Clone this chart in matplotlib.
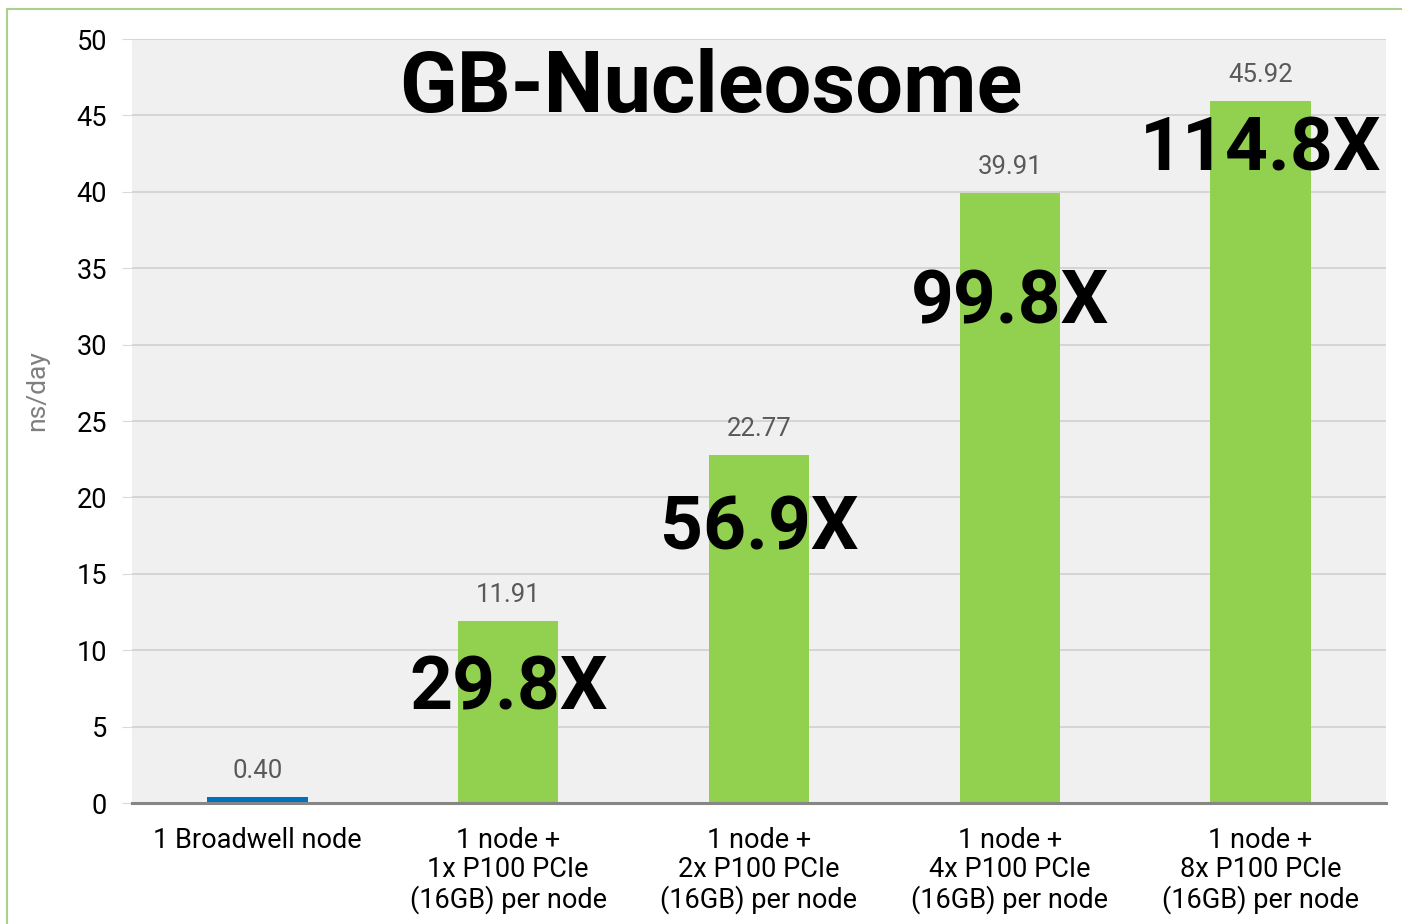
import numpy as np
import matplotlib.pyplot as plt
from matplotlib.lines import Line2D

categories = ["1 Broadwell node",
              "1 node +\n1x P100 PCIe\n(16GB) per node",
              "1 node +\n2x P100 PCIe\n(16GB) per node",
              "1 node +\n4x P100 PCIe\n(16GB) per node",
              "1 node +\n8x P100 PCIe\n(16GB) per node"]
ns_per_day = [0.40, 11.91, 22.77, 39.91, 45.92]
speedups = ["", "29.8X", "56.9X", "99.8X", "114.8X"]

# layout only: vertical centre of each speedup label (data units)
speedup_y = [0, 7.4, 17.9, 32.7, 42.7]
bar_colors = ["#0070C0", "#92D050", "#92D050", "#92D050", "#92D050"]

plt.rcParams['font.family'] = ['Roboto', 'DejaVu Sans']

fig = plt.figure(figsize=(14.02, 9.24), dpi=100)
ax = fig.add_axes([132/1402, 1 - 803/924, (1386-132)/1402, (803-39)/924])
ax.set_facecolor("#F0F0F0")

x = np.arange(len(categories))
bars = ax.bar(x, ns_per_day, width=0.4, color=bar_colors, zorder=3)

for xi, v in zip(x, ns_per_day):
    ax.annotate(f"{v:.2f}", (xi, v), xytext=(0, 10), textcoords="offset points",
                ha="center", va="bottom", fontsize=18.5, color="#595959")

for xi, s, yy in zip(x, speedups, speedup_y):
    if s:
        ax.text(xi, yy, s, ha="center", va="center", fontsize=54,
                fontweight="bold", color="black", zorder=4)

ax.set_xlim(-0.5, len(categories) - 0.5)
ax.set_ylim(0, 50)
ax.set_yticks(np.arange(0, 51, 5))
ax.set_xticks(x)
ax.set_xticklabels(categories, fontsize=19.5, linespacing=1.1)
ax.tick_params(axis="x", length=0, pad=17)
ax.tick_params(axis="y", labelsize=19.5, length=7, color="#D9D9D9", pad=11)

ax.grid(axis="y", color="#D0D0D0", linewidth=1.2, zorder=0)
for side in ["top", "right", "left"]:
    ax.spines[side].set_visible(False)
ax.spines["bottom"].set_color("#868686")
ax.spines["bottom"].set_linewidth(2.2)
ax.spines["bottom"].set_zorder(5)

ax.set_ylabel("ns/day", fontsize=19, color="#7F7F7F")
ax.yaxis.set_label_coords(-0.066, 0.54)

fig.text(0.507, 1 - 112/924, "GB-Nucleosome", ha="center", va="baseline",
         fontsize=61, fontweight="bold", color="black")

# thin green frame on top and left edges
fig.add_artist(Line2D([7/1402, 1], [1 - 9/924, 1 - 9/924], transform=fig.transFigure,
                      color="#A9D18E", linewidth=1.5))
fig.add_artist(Line2D([7/1402, 7/1402], [0, 1 - 9/924], transform=fig.transFigure,
                      color="#A9D18E", linewidth=1.5))

fig.savefig("out.png", dpi=100)
